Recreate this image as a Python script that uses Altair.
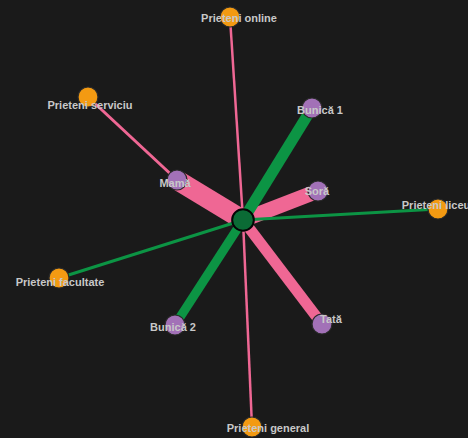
import altair as alt
import pandas as pd

# Node layout (layout coordinates), labels and groups
names = ["Eu", "Mamă", "Soră", "Bunică 1", "Bunică 2", "Tată",
         "Prieteni online", "Prieteni serviciu", "Prieteni facultate",
         "Prieteni liceu", "Prieteni general"]
groups = ["eu", "familie", "familie", "familie", "familie", "familie",
          "prieteni", "prieteni", "prieteni", "prieteni", "prieteni"]
node_x = [243, 177, 318, 312, 175, 322, 230, 88, 59, 438, 252]
node_y = [220, 180, 191, 108, 325, 324, 17, 97, 278, 209, 427]
label_x = [None, 175, 317, 320, 173, 331, 239, 90, 60, 436, 268]
label_y = [None, 184, 192, 111, 328, 320, 19, 106, 283, 206, 429]

# Edges: source, target, weight, type
edge_src = ["Eu", "Eu", "Eu", "Eu", "Eu", "Eu", "Eu", "Eu", "Eu", "Mamă"]
edge_dst = ["Mamă", "Soră", "Tată", "Bunică 1", "Bunică 2",
            "Prieteni liceu", "Prieteni facultate", "Prieteni online",
            "Prieteni general", "Prieteni serviciu"]
edge_w = [20, 15, 11, 11, 9, 3, 3, 2.5, 2.5, 3]
edge_type = ["a", "a", "a", "b", "b", "b", "b", "a", "a", "a"]

# dark page behind the chart (no white page margin), keeping the standard template
try:
    import altair.utils.html as _ah
    _orig = _ah.TEMPLATES["standard"]

    class _DarkTemplate:
        def render(self, *args, **kwargs):
            html = _orig.render(*args, **kwargs)
            return html.replace(
                "<head>",
                "<head><style>html,body{margin:0;padding:0;background:#1a1a1a;overflow:hidden;}</style>",
                1,
            )

    _ah.TEMPLATES["standard"] = _DarkTemplate()
    dark_ok = True
except Exception:
    dark_ok = False

pos = {n: (x, y) for n, x, y in zip(names, node_x, node_y)}
edges = pd.DataFrame({
    "src": edge_src, "dst": edge_dst, "w": edge_w, "tip": edge_type,
    "x": [pos[s][0] for s in edge_src], "y": [pos[s][1] for s in edge_src],
    "x2": [pos[d][0] for d in edge_dst], "y2": [pos[d][1] for d in edge_dst],
})
nodes = pd.DataFrame({"name": names, "group": groups, "x": node_x, "y": node_y})
labels = pd.DataFrame({"name": names[1:], "x": label_x[1:], "y": label_y[1:]})

if dark_ok:
    W, H, X0, Y0 = 468, 438, 0, 0
else:
    W, H, X0, Y0 = 452, 422, 8, 8
xs = alt.Scale(domain=[X0, X0 + W])
ys = alt.Scale(domain=[Y0 + H, Y0])

edge_layer = alt.Chart(edges).mark_rule(strokeCap="butt").encode(
    x=alt.X("x:Q", scale=xs, axis=None),
    y=alt.Y("y:Q", scale=ys, axis=None),
    x2="x2:Q", y2="y2:Q",
    strokeWidth=alt.StrokeWidth("w:Q", scale=None, legend=None),
    color=alt.Color("tip:N", scale=alt.Scale(domain=["a", "b"], range=["#ef6794", "#0c9444"]), legend=None),
)

outer = alt.Chart(nodes[nodes.group != "eu"]).mark_circle(
    size=400, opacity=1, stroke="#2a2a2a", strokeWidth=1.2
).encode(
    x=alt.X("x:Q", scale=xs, axis=None),
    y=alt.Y("y:Q", scale=ys, axis=None),
    color=alt.Color("group:N", scale=alt.Scale(domain=["familie", "prieteni"], range=["#a271b7", "#f39a12"]), legend=None),
)

center = alt.Chart(nodes[nodes.group == "eu"]).mark_circle(
    size=470, opacity=1, color="#0b6b35", stroke="#050505", strokeWidth=2
).encode(
    x=alt.X("x:Q", scale=xs, axis=None),
    y=alt.Y("y:Q", scale=ys, axis=None),
)

text = alt.Chart(labels).mark_text(
    font="Liberation Sans", fontSize=11, fontWeight="bold", color="#c8c8c8",
    align="center", baseline="middle"
).encode(
    x=alt.X("x:Q", scale=xs, axis=None),
    y=alt.Y("y:Q", scale=ys, axis=None),
    text="name:N",
)

chart = alt.layer(edge_layer, outer, center, text).resolve_scale(
    color="independent"
).properties(
    width=W, height=H, background="#1a1a1a", padding=0,
    autosize=alt.AutoSizeParams(type="none"),
).configure_view(stroke=None)

chart.save("out.html", embed_options={"renderer": "svg", "actions": False})
